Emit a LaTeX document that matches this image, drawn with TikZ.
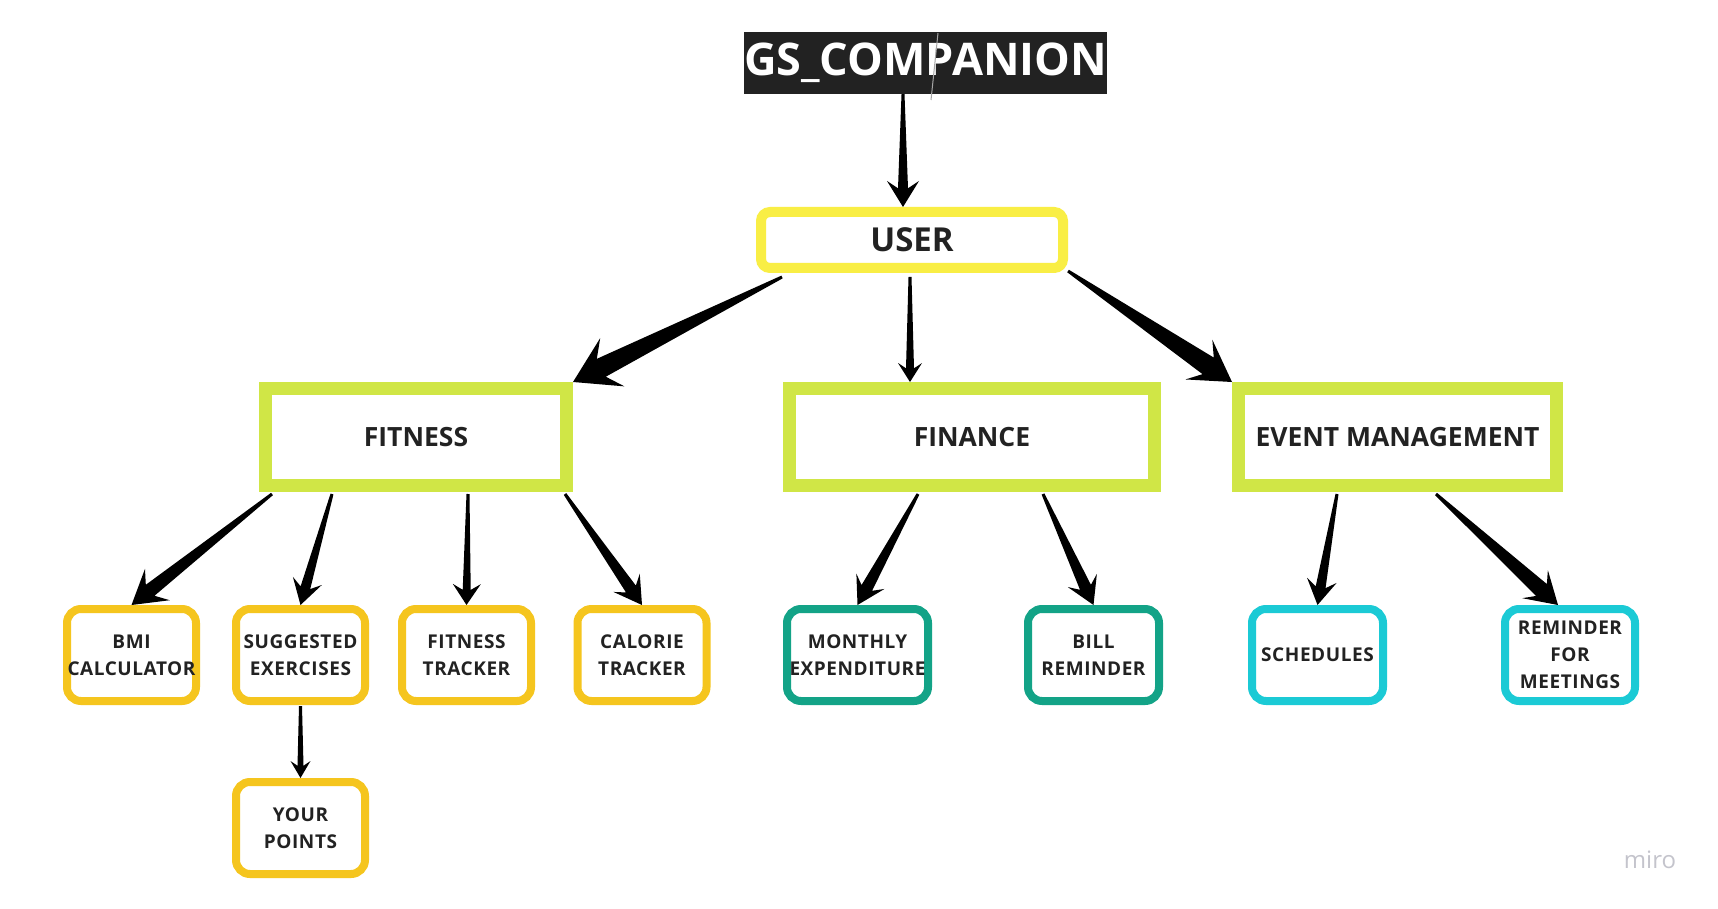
\documentclass[tikz,border=0pt]{standalone}
\usepackage{fontspec}
\setmainfont{Open Sans}
\newfontfamily\spacedfont[LetterSpace=3]{Open Sans}
\usetikzlibrary{calc}
\definecolor{gsdark}{HTML}{222222}
\definecolor{useryellow}{HTML}{F9EE45}
\definecolor{limec}{HTML}{D0E646}
\definecolor{goldc}{HTML}{F5C51E}
\definecolor{tealc}{HTML}{13A387}
\definecolor{cyanc}{HTML}{1BCAD5}
\definecolor{txtc}{HTML}{222222}
\definecolor{mirogray}{HTML}{C4C4CC}
% tapered arrow: start, tip, shaft half width, head half width, head length
\newcommand\taper[5]{%
  \path (#1) coordinate (tS) (#2) coordinate (tP);
  \path ($(tP)!#5pt!(tS)$) coordinate (tB) ($(tP)!{0.72*#5pt}!(tS)$) coordinate (tJ);
  \fill[black, line join=round]
    ($(tS)!1.5pt!90:(tP)$) -- ($(tJ)!#3pt!90:(tP)$) -- ($(tB)!#4pt!90:(tP)$) -- (tP)
    -- ($(tB)!#4pt!-90:(tP)$) -- ($(tJ)!#3pt!-90:(tP)$) -- ($(tS)!1.5pt!-90:(tP)$) -- cycle;
}
\tikzset{
  bigbox/.style={draw=limec, line width=13pt, fill=white, minimum height=97pt, inner sep=0pt,
    text=txtc, font=\fontsize{26.5}{30}\selectfont\bfseries},
  smallbox/.style={line width=8pt, fill=white, rounded corners=14pt, minimum height=92pt,
    inner sep=0pt, align=center, text=txtc, font=\spacedfont\fontsize{19}{27}\selectfont\bfseries},
  goldbox/.style={smallbox, draw=goldc, minimum width=129pt},
  tealbox/.style={smallbox, draw=tealc},
  cyanbox/.style={smallbox, draw=cyanc, minimum width=130pt},
}
\begin{document}
\begin{tikzpicture}[x=1pt, y=-1pt]
\useasboundingbox[fill=white] (0,0) rectangle (1718,909);

\node[fill=gsdark, text=white, minimum width=361pt, minimum height=62pt, inner sep=0pt,
  font=\fontsize{45}{48}\selectfont\bfseries] (gs) at (925.5,63) {GS\_COMPANION};
\coordinate (stray1) at (938,33);
\coordinate (stray2) at (931,100);
\draw[gray!70, line width=1pt] (stray1) -- (stray2);

\node[draw=useryellow, line width=10pt, rounded corners=9pt, minimum width=302pt, minimum height=56pt,
  inner sep=0pt, text=txtc, font=\fontsize{33}{36}\selectfont\bfseries] (user) at (912,240) {USER};

\node[bigbox, minimum width=301pt] (fitness) at (416,437) {FITNESS};
\node[bigbox, minimum width=365pt] (finance) at (972,437) {FINANCE};
\node[bigbox, minimum width=318pt] (event) at (1397.5,437) {EVENT MANAGEMENT};

\node[goldbox] (bmi) at (131.5,655) {BMI\\CALCULATOR};
\node[goldbox] (sugg) at (300.5,655) {SUGGESTED\\EXERCISES};
\node[goldbox] (ftrack) at (466.5,655) {FITNESS\\TRACKER};
\node[goldbox] (cal) at (642,655) {CALORIE\\TRACKER};
\node[goldbox] (points) at (300.5,828) {YOUR\\POINTS};
\node[tealbox, minimum width=141pt] (monthly) at (857.5,655) {MONTHLY\\EXPENDITURE};
\node[tealbox, minimum width=131pt] (bill) at (1093.5,655) {BILL\\REMINDER};
\node[cyanbox, minimum width=131pt] (sched) at (1317.5,655) {SCHEDULES};
\node[cyanbox] (rem) at (1570,655) {REMINDER\\FOR\\MEETINGS};

\taper{[xshift=-22.5pt]gs.south}{[xshift=-9pt]user.north}{5}{16}{26}
\taper{[xshift=-130pt,yshift=-4pt]user.south}{fitness.north east}{10}{27}{44}
\taper{[xshift=-2pt,yshift=-4pt]user.south}{[xshift=-62pt]finance.north}{4}{12}{19}
\taper{[yshift=2pt]user.south east}{event.north west}{10}{24}{40}

\taper{[xshift=13pt,yshift=-2pt]fitness.south west}{bmi.north}{7}{20}{33}
\taper{[xshift=73pt,yshift=-2pt]fitness.south west}{sugg.north}{5}{15}{25}
\taper{[xshift=209pt,yshift=-2pt]fitness.south west}{ftrack.north}{4}{14}{21}
\taper{[xshift=-8pt,yshift=-2pt]fitness.south east}{cal.north}{6}{16}{27}
\taper{[xshift=135pt,yshift=-2pt]finance.south west}{monthly.north}{6}{16}{27}
\taper{[xshift=260pt,yshift=-2pt]finance.south west}{bill.north}{6}{16}{27}
\taper{[xshift=105pt,yshift=-2pt]event.south west}{sched.north}{5}{15}{25}
\taper{[xshift=204pt,yshift=-2pt]event.south west}{[xshift=-12pt]rem.north}{8}{19}{31}
\taper{[yshift=-1pt]sugg.south}{points.north}{3}{10}{17}

\node[text=mirogray, font=\fontsize{24}{26}\selectfont, inner sep=0pt] (miro) at (1650,860) {miro};
\end{tikzpicture}
\end{document}
